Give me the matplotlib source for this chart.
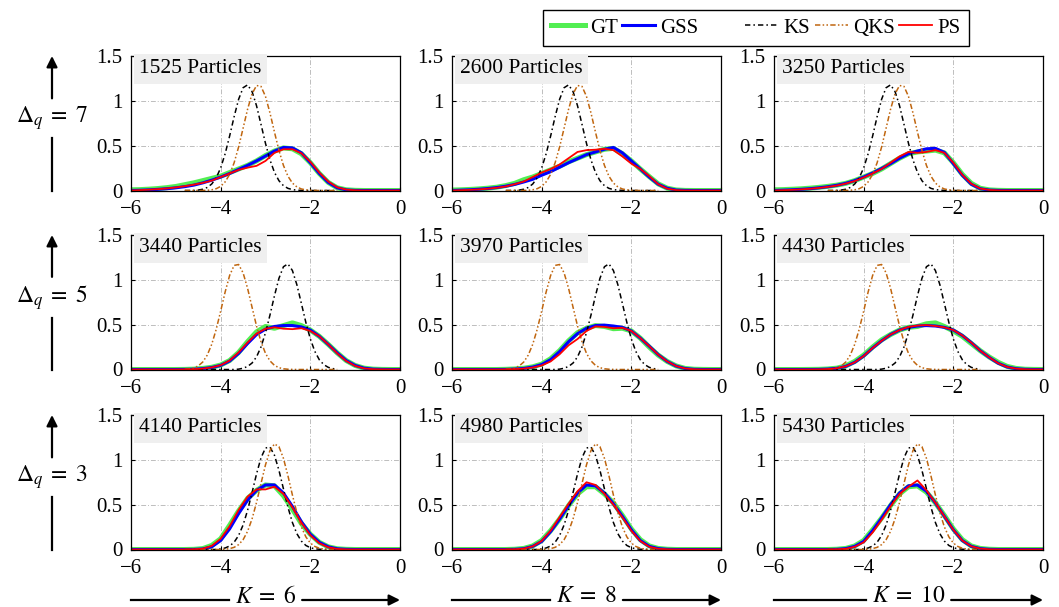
import numpy as np
import matplotlib
matplotlib.use('Agg')
import matplotlib.pyplot as plt
from matplotlib.lines import Line2D

plt.rcParams['font.family'] = ['Liberation Serif', 'DejaVu Serif']
plt.rcParams['mathtext.fontset'] = 'stix'
plt.rcParams['font.size'] = 15

# grids the densities were read on
x_wide = np.round(np.arange(-6.0, 0.01, 0.2), 1)   # GT / GSS / PS
x_narrow = np.round(np.arange(-4.8, -1.35, 0.1), 1)  # KS / QKS

# row labels, column labels and particle counts
delta_q = [7, 5, 3]
k_values = [6, 8, 10]
particles = [[1525, 2600, 3250],
             [3440, 3970, 4430],
             [4140, 4980, 5430]]

# ---- KS and QKS (same in every column of a row) ----
ks_d7 = [0, 0, .001, .005, .014, .034, .072, .141, .252, .410, .608, .823, 1.017, 1.146, 1.178, 1.104, .945,
         .737, .525, .341, .202, .109, .054, .024, .010, .004, .001, 0, 0, 0, 0, 0, 0, 0, 0]
qks_d7 = [0, 0, 0, 0, 0, .003, .008, .020, .046, .096, .180, .309, .485, .694, .906, 1.078, 1.171, 1.161,
          1.049, .865, .651, .447, .280, .160, .083, .040, .017, .007, .003, .001, 0, 0, 0, 0, 0]
ks_d5 = [0, 0, 0, 0, 0, 0, 0, 0, 0, 0, 0, 0, .004, .014, .034, .072, .141, .252, .410, .608, .823, 1.017,
         1.146, 1.178, 1.104, .945, .737, .525, .341, .202, .109, .054, .024, .010, .004]
qks_d5 = [.003, .007, .017, .040, .083, .160, .280, .447, .651, .865, 1.049, 1.161, 1.171, 1.078, .906, .694,
          .485, .309, .180, .096, .046, .020, .008, .003, .001, 0, 0, 0, 0, 0, 0, 0, 0, 0, 0]
ks_d3 = [0, 0, 0, 0, 0, 0, 0, 0, .007, .017, .039, .081, .156, .273, .436, .635, .843, 1.023, 1.132, 1.142,
         1.051, .883, .677, .473, .301, .176, .094, .045, .020, .008, .003, .001, 0, 0, 0]
qks_d3 = [0, 0, 0, 0, 0, 0, 0, 0, 0, .004, .010, .024, .054, .109, .202, .341, .525, .737, .945, 1.104,
          1.178, 1.146, 1.017, .823, .608, .410, .252, .141, .072, .034, .014, .005, .002, 0, 0]

# ---- GT / GSS / PS per panel ----
gt_1525 = [.008, .010, .015, .022, .032, .045, .065, .085, .11, .135, .16, .20, .24, .28, .33, .39, .44, .475,
           .465, .41, .31, .19, .09, .03, .008, .002, 0, 0, 0, 0, 0]
gss_1525 = [0, .003, .007, .013, .02, .03, .043, .06, .085, .115, .15, .19, .235, .28, .33, .385, .44, .48,
            .475, .42, .31, .19, .09, .03, .007, .001, 0, 0, 0, 0, 0]
ps_1525 = [0, .004, .009, .015, .023, .034, .048, .065, .085, .11, .15, .19, .23, .255, .275, .33, .42, .46,
           .46, .415, .32, .20, .10, .035, .01, .002, 0, 0, 0, 0, 0]

gt_2600 = [.005, .008, .012, .018, .026, .037, .055, .08, .12, .15, .19, .23, .27, .32, .36, .40, .43, .46,
           .47, .41, .33, .24, .155, .074, .026, .006, .001, 0, 0, 0, 0]
gss_2600 = [0, .004, .008, .014, .022, .033, .048, .068, .095, .125, .17, .21, .26, .31, .355, .40, .43, .46,
            .48, .42, .33, .24, .15, .07, .025, .005, .001, 0, 0, 0, 0]
ps_2600 = [0, .003, .007, .012, .02, .03, .045, .07, .10, .15, .20, .24, .29, .36, .43, .45, .455, .465,
           .45, .38, .30, .24, .16, .07, .02, .004, 0, 0, 0, 0, 0]

gt_3250 = [.008, .01, .014, .019, .026, .035, .046, .06, .08, .11, .15, .19, .24, .30, .36, .41, .43, .44,
           .45, .42, .31, .18, .08, .025, .007, .002, 0, 0, 0, 0, 0]
gss_3250 = [0, .004, .008, .013, .02, .03, .042, .058, .08, .11, .15, .195, .245, .30, .36, .41, .44, .465,
            .47, .425, .30, .17, .07, .02, .005, .001, 0, 0, 0, 0, 0]
ps_3250 = [0, .003, .007, .012, .019, .028, .04, .055, .077, .105, .145, .19, .24, .31, .38, .43, .42, .43,
           .45, .42, .31, .175, .075, .022, .006, .001, 0, 0, 0, 0, 0]

gt_3440 = [0, 0, 0, 0, 0, 0, .001, .004, .012, .025, .05, .10, .19, .31, .42, .48, .46, .49, .52, .49, .44,
           .37, .28, .185, .10, .045, .015, .004, .001, 0, 0]
gss_3440 = [0, 0, 0, 0, 0, 0, .001, .003, .01, .022, .046, .095, .18, .29, .39, .45, .48, .49, .49, .475,
            .44, .37, .28, .185, .10, .045, .015, .004, .001, 0, 0]
ps_3440 = [0, 0, 0, 0, 0, 0, .001, .003, .01, .023, .048, .10, .19, .30, .40, .455, .47, .455, .45, .46,
           .43, .37, .28, .18, .095, .04, .012, .003, .001, 0, 0]

gt_3970 = [0, 0, 0, 0, 0, 0, .002, .006, .014, .03, .06, .12, .21, .32, .41, .46, .49, .48, .455, .46, .43,
           .35, .25, .16, .09, .04, .012, .003, .001, 0, 0]
gss_3970 = [0, 0, 0, 0, 0, 0, .001, .005, .012, .027, .055, .11, .20, .31, .40, .46, .49, .495, .485, .47,
            .43, .35, .26, .165, .09, .038, .011, .002, 0, 0, 0]
ps_3970 = [0, 0, 0, 0, 0, 0, .001, .004, .01, .022, .045, .09, .17, .27, .34, .43, .48, .475, .46, .465,
           .43, .35, .26, .165, .09, .038, .011, .002, 0, 0, 0]

gt_4430 = [0, 0, 0, 0, .001, .002, .006, .015, .04, .09, .16, .25, .33, .39, .44, .47, .48, .51, .52, .48,
           .43, .37, .29, .21, .14, .08, .035, .012, .003, .001, 0]
gss_4430 = [0, 0, 0, 0, 0, .001, .005, .013, .035, .08, .15, .24, .32, .39, .44, .47, .485, .49, .485, .47,
            .44, .38, .30, .21, .135, .07, .028, .009, .002, 0, 0]
ps_4430 = [0, 0, 0, 0, 0, .001, .005, .013, .035, .08, .15, .24, .32, .39, .44, .475, .49, .495, .485, .47,
           .44, .38, .30, .21, .135, .07, .028, .009, .002, 0, 0]

gt_4140 = [0, 0, 0, 0, 0, 0, 0, .002, .01, .045, .12, .27, .43, .57, .66, .72, .71, .60, .45, .29, .17, .08,
           .03, .008, .002, 0, 0, 0, 0, 0, 0]
gss_4140 = [0, 0, 0, 0, 0, 0, 0, .001, .006, .03, .10, .23, .40, .55, .66, .72, .72, .63, .48, .31, .17, .08,
            .03, .008, .002, 0, 0, 0, 0, 0, 0]
ps_4140 = [0, 0, 0, 0, 0, 0, 0, .002, .009, .04, .12, .26, .44, .59, .67, .67, .70, .62, .47, .30, .16, .07,
           .025, .006, .001, 0, 0, 0, 0, 0, 0]

gt_4980 = [0, 0, 0, 0, 0, 0, 0, .003, .012, .04, .10, .21, .34, .49, .62, .70, .70, .62, .52, .38, .23, .11,
           .04, .012, .003, 0, 0, 0, 0, 0, 0]
gss_4980 = [0, 0, 0, 0, 0, 0, 0, .002, .009, .035, .09, .20, .34, .49, .63, .72, .71, .63, .51, .37, .22, .10,
            .035, .01, .002, 0, 0, 0, 0, 0, 0]
ps_4980 = [0, 0, 0, 0, 0, 0, 0, .002, .01, .035, .095, .21, .36, .51, .65, .75, .72, .62, .50, .36, .21, .095,
           .03, .008, .002, 0, 0, 0, 0, 0, 0]

gt_5430 = [0, 0, 0, 0, 0, 0, 0, .003, .012, .04, .10, .22, .35, .49, .62, .70, .71, .64, .52, .38, .23, .11,
           .04, .012, .003, 0, 0, 0, 0, 0, 0]
gss_5430 = [0, 0, 0, 0, 0, 0, 0, .002, .01, .035, .09, .21, .35, .50, .63, .71, .72, .65, .52, .37, .22, .10,
            .035, .01, .002, 0, 0, 0, 0, 0, 0]
ps_5430 = [0, 0, 0, 0, 0, 0, 0, .002, .008, .03, .08, .19, .33, .48, .62, .70, .77, .66, .52, .37, .22, .10,
           .035, .01, .002, 0, 0, 0, 0, 0, 0]

ks_rows = [ks_d7, ks_d5, ks_d3]
qks_rows = [qks_d7, qks_d5, qks_d3]
gt_panels = [[gt_1525, gt_2600, gt_3250], [gt_3440, gt_3970, gt_4430], [gt_4140, gt_4980, gt_5430]]
gss_panels = [[gss_1525, gss_2600, gss_3250], [gss_3440, gss_3970, gss_4430], [gss_4140, gss_4980, gss_5430]]
ps_panels = [[ps_1525, ps_2600, ps_3250], [ps_3440, ps_3970, ps_4430], [ps_4140, ps_4980, ps_5430]]

# styles
c_gt, c_gss, c_ps = '#52ee52', '#0000ff', '#ff0000'
c_ks, c_qks = 'black', '#c0660f'
ls_ks = (0, (3.5, 2, 1, 2))
ls_qks = (0, (3.5, 1.5, 1, 1.5, 1, 1.5))

W, H = 1059, 607
fig = plt.figure(figsize=(W / 100, H / 100), dpi=100)

col_left = [131, 452, 774]
row_top = [56, 235, 415]
ax_w, ax_h = 269, 134.5

axes = []
for r in range(3):
    for c in range(3):
        ax = fig.add_axes([col_left[c] / W, 1 - (row_top[r] + ax_h) / H, ax_w / W, ax_h / H])
        ax.plot(x_wide, gt_panels[r][c], color=c_gt, lw=3.6, solid_capstyle='round')
        ax.plot(x_wide, gss_panels[r][c], color=c_gss, lw=2.2)
        ax.plot(x_narrow, ks_rows[r], color=c_ks, lw=1.1, ls=ls_ks)
        ax.plot(x_narrow, qks_rows[r], color=c_qks, lw=1.1, ls=ls_qks)
        ax.plot(x_wide, ps_panels[r][c], color=c_ps, lw=1.3)
        ax.set_xlim(-6, 0)
        ax.set_ylim(0, 1.5)
        ax.set_xticks([-6, -4, -2, 0])
        ax.set_yticks([0, 0.5, 1, 1.5])
        ax.set_yticklabels(['0', '0.5', '1', '1.5'])
        ax.grid(True, color='#bdbdbd', lw=0.7, ls=(0, (5, 2, 1, 2)))
        ax.set_axisbelow(True)
        ax.tick_params(direction='in', length=3, width=0.8, labelsize=15)
        ax.tick_params(axis='x', pad=7)
        ax.tick_params(axis='y', pad=6)
        for s in ax.spines.values():
            s.set_linewidth(0.9)
        ax.text(0.03, 0.975, f'{particles[r][c]} Particles', transform=ax.transAxes, ha='left', va='top',
                fontsize=15.5, zorder=10,
                bbox=dict(boxstyle='square,pad=0.25', facecolor='#efefef', edgecolor='none'))
        axes.append(ax)

# legend across the top
handles = [Line2D([], [], color=c_gt, lw=3.6),
           Line2D([], [], color=c_gss, lw=2.2),
           Line2D([], [], color='none'),
           Line2D([], [], color=c_ks, lw=1.1, ls=ls_ks),
           Line2D([], [], color=c_qks, lw=1.1, ls=ls_qks),
           Line2D([], [], color=c_ps, lw=1.3)]
labels = ['GT', 'GSS', '', 'KS', 'QKS', 'PS']
leg = fig.legend(handles, labels, loc='center', bbox_to_anchor=(756 / W, 1 - 28 / H), ncol=6,
                 fancybox=False, edgecolor='black', framealpha=1, fontsize=15,
                 handlelength=1.6, handletextpad=0.25, columnspacing=0.2, borderpad=0.4)
leg.get_frame().set_linewidth(1.0)

# row labels with vertical arrows, column labels with horizontal arrows
row_texts = []
for r in range(3):
    yc = row_top[r] + ax_h / 2 - 5
    t = fig.text(52 / W, 1 - yc / H, rf'$\Delta_q\;=\;{delta_q[r]}$', ha='center', va='center', fontsize=17)
    row_texts.append(t)
col_texts = []
for c in range(3):
    xc = col_left[c] + ax_w / 2
    t = fig.text(xc / W, 1 - 597 / H, rf'$K\;=\;{k_values[c]}$', ha='center', va='center', fontsize=17)
    col_texts.append(t)

fig.canvas.draw()
renderer = fig.canvas.get_renderer()
arrow_kw = dict(arrowstyle='-|>', lw=1.6, color='black', mutation_scale=16, shrinkA=0, shrinkB=0)
gap = 6
for r, t in enumerate(row_texts):
    bb = t.get_window_extent(renderer)
    x = 52
    y_bot = H - (row_top[r] + ax_h)
    y_top = H - row_top[r]
    fig.add_artist(Line2D([x / W, x / W], [y_bot / H, (bb.y0 - gap) / H], color='black', lw=1.6))
    axes[0].annotate('', xy=(x / W, y_top / H), xytext=(x / W, (bb.y1 + gap) / H),
                     xycoords='figure fraction', textcoords='figure fraction',
                     arrowprops=arrow_kw, annotation_clip=False)
for c, t in enumerate(col_texts):
    bb = t.get_window_extent(renderer)
    y = (H - 600) / H
    x0 = col_left[c]
    x1 = col_left[c] + ax_w
    fig.add_artist(Line2D([x0 / W, (bb.x0 - gap) / W], [y, y], color='black', lw=1.6))
    axes[0].annotate('', xy=(x1 / W, y), xytext=((bb.x1 + gap) / W, y),
                     xycoords='figure fraction', textcoords='figure fraction',
                     arrowprops=arrow_kw, annotation_clip=False)

fig.savefig('out.png', dpi=100)
